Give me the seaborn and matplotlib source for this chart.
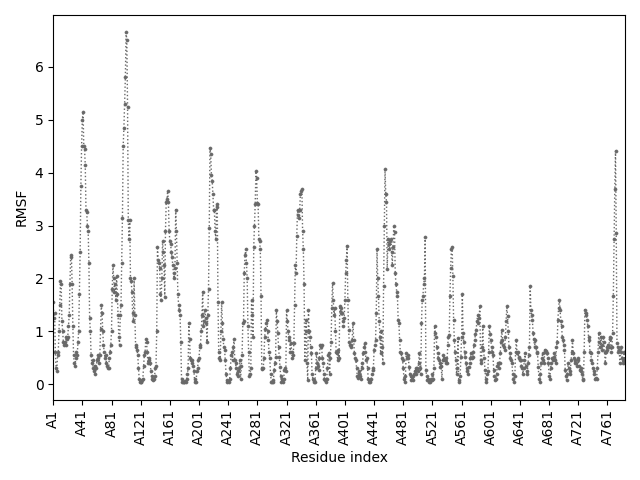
import matplotlib
matplotlib.use("Agg")
import matplotlib.pyplot as plt
import seaborn as sns
import numpy as np
import pandas as pd

chain = "A"
rmsf_1_131 = [
    1.55, 1.25, 1.35, 0.6, 0.3, 0.25, 0.55, 0.6, 1.0, 1.5,
    1.95, 1.9, 1.2, 1.0, 0.8, 0.75, 0.8, 0.75, 0.9, 0.85,
    0.9, 1.1, 1.3, 1.9, 2.4, 2.45, 1.9, 1.1, 0.55, 0.4,
    0.35, 0.5, 0.6, 0.55, 0.8, 1.0, 1.7, 2.5, 3.75, 4.5,
    5.0, 5.15, 4.5, 4.45, 4.15, 3.3, 3.25, 3.0, 2.9, 2.3,
    1.25, 1.0, 0.55, 0.4, 0.45, 0.3, 0.25, 0.35, 0.2, 0.3,
    0.45, 0.55, 0.5, 0.4, 0.55, 1.05, 1.5, 1.35, 1.0, 0.75,
    0.6, 0.5, 0.55, 0.4, 0.35, 0.3, 0.3, 0.5, 0.6, 0.75,
    1.0, 1.8, 2.25, 2.0, 1.75, 1.9, 1.6, 2.05, 1.7, 1.3,
    0.9, 0.75, 1.3, 1.5, 2.3, 3.15, 4.5, 4.85, 5.3, 5.8,
    6.65, 6.5, 5.25, 3.1, 2.75, 3.1, 2.0, 1.95, 1.75, 1.35,
    1.2, 2.0, 1.3, 0.75, 0.7, 0.65, 0.55, 0.3, 0.1, 0.05,
    0.05, 0.05, 0.08, 0.1, 0.35, 0.55, 0.6, 0.85, 0.8, 0.6,
    0.4,
]
rmsf_132_255 = [
    0.5, 0.45, 0.4, 0.25, 0.15, 0.1, 0.08, 0.1, 0.15,
    0.3, 0.35, 1.0, 2.6, 2.35, 2.3, 2.2, 1.7, 1.6, 2.0,
    2.7, 2.5, 2.25, 1.65, 2.9, 3.45, 3.5, 3.65, 3.45, 2.9,
    2.7, 2.65, 2.5, 2.4, 2.25, 2.1, 2.0, 2.2, 3.3, 2.9,
    2.3, 1.7, 1.5, 1.4, 1.3, 0.8, 0.1, 0.05, 0.05, 0.04,
    0.05, 0.06, 0.05, 0.1, 0.2, 0.3, 1.15, 0.85, 0.5, 0.45,
    0.45, 0.4, 0.35, 0.25, 0.05, 0.1, 0.05, 0.25, 0.3, 0.45,
    0.5, 0.7, 0.75, 1.0, 1.3, 1.75, 1.1, 1.2, 1.4, 1.25,
    1.15, 0.8, 1.3, 1.8, 2.95, 4.47, 4.35, 3.95, 3.85, 3.6,
    3.3, 3.3, 2.9, 2.75, 3.4, 3.35, 1.55, 0.6, 0.5, 0.45,
    1.0, 1.55, 1.15, 0.85, 0.7, 0.65, 0.45, 0.2, 0.08, 0.05,
    0.06, 0.05, 0.1, 0.3, 0.55, 0.6, 0.45, 0.7, 0.85, 0.45,
    0.4, 0.3, 0.2, 0.25, 0.15,
]
rmsf_256_389 = [
    0.3, 0.45, 0.1, 0.35, 0.55, 1.15, 1.2, 2.1, 2.45, 2.55,
    2.3, 2.0, 1.1, 0.6, 0.15, 0.2, 0.3, 1.6, 1.3, 0.9,
    2.6, 3.0, 3.4, 4.03, 3.9, 3.42, 3.4, 2.75, 2.7, 2.55,
    1.67, 0.3, 0.28, 0.3, 0.5, 0.9, 1.05, 1.15, 1.22, 1.0,
    0.84, 0.6, 0.5, 0.2, 0.05, 0.04, 0.05, 0.08, 0.27, 0.4,
    0.52, 1.41, 1.2, 0.97, 0.7, 0.52, 0.33, 0.15, 0.05, 0.1,
    0.05, 0.1, 0.27, 0.3, 0.25, 1.41, 1.2, 1.0, 0.9, 0.84,
    0.6, 0.78, 0.6, 0.5, 0.55, 0.78, 1.5, 2.25, 2.1, 2.8,
    3.3, 3.2, 3.15, 3.3, 3.6, 3.65, 3.7, 2.9, 2.55, 1.9,
    0.46, 1.0, 1.22, 0.4, 0.08, 1.41, 1.0, 0.9, 0.7, 0.59,
    0.2, 0.1, 0.05, 0.08, 0.05, 0.3, 0.59, 0.4, 0.35, 0.27,
    0.5, 0.75, 0.7, 0.75, 0.5, 0.4, 0.2, 0.1, 0.08, 0.05,
    0.1, 0.3, 0.55, 0.59, 0.2, 0.5, 0.8, 1.45, 1.92, 1.6,
    1.3, 1.45, 1.0, 0.6,
]
rmsf_390_521 = [
    0.59, 0.46, 0.65, 0.5, 1.48, 1.35, 1.45, 1.35, 1.2, 1.1,
    1.25, 1.6, 2.1, 2.34, 2.62, 1.6, 1.03, 0.8, 0.75, 0.7,
    0.75, 0.84, 1.16, 0.84, 0.59, 0.5, 0.46, 0.3, 0.15, 0.11,
    0.25, 0.2, 0.15, 0.1, 0.4, 0.3, 0.59, 0.7, 0.78, 0.6,
    0.46, 0.5, 0.3, 0.1, 0.05, 0.08, 0.05, 0.1, 0.2, 0.27,
    0.3, 0.65, 0.75, 0.84, 1.35, 2.56, 2.0, 1.67, 1.2, 0.9,
    0.59, 1.0, 0.7, 0.4, 1.86, 3.0, 4.06, 3.6, 3.45, 2.18,
    2.75, 2.65, 2.56, 2.7, 2.75, 2.5, 2.25, 2.6, 3.0, 2.88,
    2.1, 1.9, 1.75, 1.67, 1.22, 1.16, 0.84, 0.6, 0.59, 0.5,
    0.45, 0.3, 0.1, 0.05, 0.15, 0.59, 0.5, 0.55, 0.5, 0.33,
    0.2, 0.15, 0.08, 0.1, 0.08, 0.15, 0.2, 0.25, 0.3, 0.2,
    0.3, 0.25, 0.4, 0.59, 0.3, 0.2, 1.16, 1.6, 1.67, 1.9,
    2.0, 2.78, 0.27, 0.15, 0.08, 0.1, 0.05, 0.08, 0.05, 0.1,
    0.08, 0.2,
]
rmsf_522_654 = [
    0.1, 0.3, 1.1, 0.97, 0.9, 0.7, 0.59, 0.5, 0.46, 0.4,
    0.33, 0.35, 0.1, 0.45, 0.55, 0.5, 0.45, 0.4, 0.5, 0.4,
    0.75, 0.9, 0.94, 1.67, 2.2, 2.56, 2.59, 2.05, 1.22, 0.84,
    0.6, 0.46, 0.2, 0.3, 0.87, 0.08, 0.05, 0.15, 0.52, 0.9,
    1.7, 0.97, 0.8, 0.6, 0.52, 0.4, 0.3, 0.25, 0.2, 0.33,
    0.4, 0.5, 0.59, 0.5, 0.52, 0.6, 0.75, 0.84, 0.95, 1.03,
    1.2, 1.3, 1.16, 1.25, 1.48, 0.46, 0.4, 0.7, 1.1, 0.65,
    0.5, 0.27, 0.1, 0.05, 0.2, 0.25, 0.6, 1.1, 0.95, 0.84,
    0.7, 0.6, 0.55, 0.27, 0.15, 0.08, 0.1, 0.2, 0.35, 0.4,
    0.3, 0.4, 0.59, 0.8, 1.03, 0.84, 0.75, 0.7, 0.65, 0.9,
    1.2, 1.48, 1.29, 1.0, 0.7, 0.59, 0.5, 0.45, 0.4, 0.2,
    0.1, 0.05, 0.15, 0.6, 0.84, 0.59, 0.6, 0.52, 0.5, 0.46,
    0.46, 0.35, 0.3, 0.2, 0.3, 0.45, 0.59, 0.35, 0.25, 0.2,
    0.4, 0.55, 0.7,
]
rmsf_655_785 = [
    1.86, 1.41, 1.3, 1.22, 0.97, 0.85, 0.7, 0.84, 0.7, 0.6,
    0.59, 0.33, 0.1, 0.05, 0.2, 0.4, 0.5, 0.59, 0.45, 0.4,
    0.65, 0.6, 0.62, 0.59, 0.5, 0.4, 0.15, 0.1, 0.3, 0.4,
    0.5, 0.45, 0.52, 0.59, 0.45, 0.4, 0.7, 0.8, 1.22, 1.45,
    1.6, 1.41, 1.2, 1.1, 0.9, 0.84, 0.75, 0.65, 0.27, 0.15,
    0.08, 0.2, 0.4, 0.3, 0.25, 0.2, 0.45, 0.6, 0.84, 0.59,
    0.5, 0.4, 0.45, 0.4, 0.35, 0.5, 0.45, 0.35, 0.27, 0.3,
    0.25, 0.2, 0.1, 0.08, 0.6, 1.41, 1.35, 1.3, 1.22, 1.1,
    0.9, 0.84, 0.6, 0.59, 0.45, 0.4, 0.3, 0.25, 0.2, 0.1,
    0.12, 0.1, 0.3, 0.6, 0.97, 0.8, 0.7, 0.9, 0.75, 0.65,
    0.9, 0.8, 0.6, 0.4, 0.6, 0.7, 0.65, 0.75, 0.7, 0.9,
    0.85, 0.6, 0.7, 0.97, 1.67, 2.75, 3.7, 4.41, 2.85, 0.78,
    0.7, 0.6, 0.65, 0.4, 0.6, 0.7, 0.5, 0.4, 0.45, 0.6,
    0.4,
]

rmsf = (rmsf_1_131 + rmsf_132_255 + rmsf_256_389 + rmsf_390_521
        + rmsf_522_654 + rmsf_655_785)
residue_numbers = list(range(1, len(rmsf) + 1))
residue_labels = [f"{chain}{n}" for n in residue_numbers]
tick_residues = [1, 41, 81, 121, 161, 201, 241, 281, 321, 361, 401, 441,
                 481, 521, 561, 601, 641, 681, 721, 761]

df = pd.DataFrame({"pos": np.arange(len(rmsf)), "RMSF": rmsf,
                   "label": residue_labels})

fig, ax = plt.subplots(figsize=(6.4, 4.8), dpi=100)
sns.lineplot(data=df, x="pos", y="RMSF", ax=ax, color="dimgray",
             linestyle=":", linewidth=1.0, marker=".", markersize=4.5,
             markeredgecolor="dimgray", markeredgewidth=0.4)
ax.set_xlim(0, len(rmsf) - 1)
tick_pos = [r - 1 for r in tick_residues]
ax.set_xticks(tick_pos)
ax.set_xticklabels([residue_labels[p] for p in tick_pos], rotation=90,
                   fontsize=10)
ax.set_xlabel("Residue index")
ax.set_ylabel("RMSF")
fig.tight_layout()
fig.savefig("out.png", dpi=100)
